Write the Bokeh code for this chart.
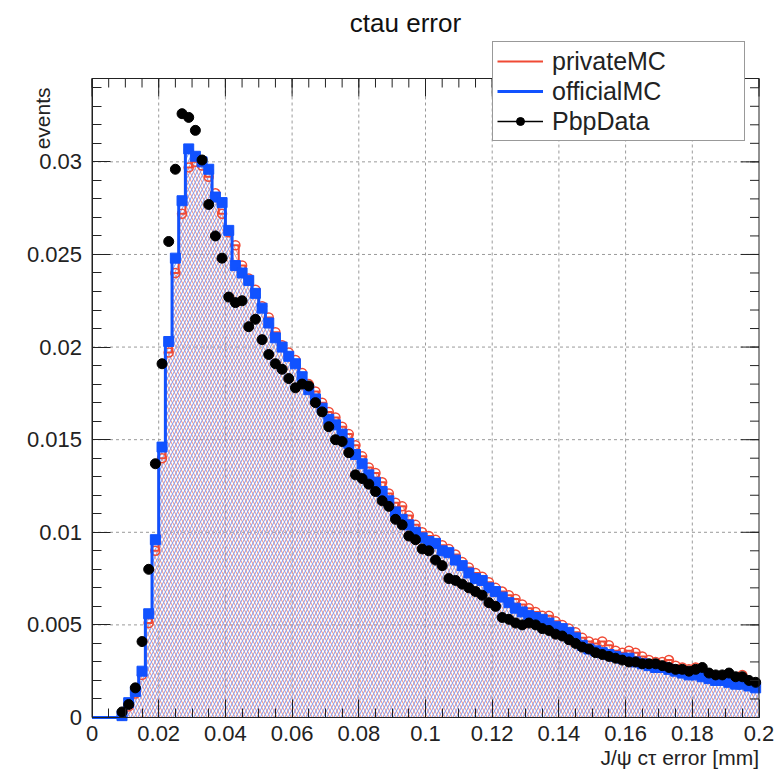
import numpy as np
from math import pi
from bokeh.plotting import figure
from bokeh.models import (FixedTicker, LinearAxis, Range1d, Label, Legend, LegendItem,
                          ColumnDataSource)
from bokeh.embed import file_html
from bokeh.resources import INLINE

# ---------------- data ----------------
bin_lo, bin_hi, n_bins = 0.0, 0.2, 100
y_axis_max = 0.0345

official_mc = [
    0, 0, 0, 0, 0.0001, 0.0008, 0.0014, 0.0025, 0.0056, 0.0096,
    0.0146, 0.0203, 0.0248, 0.0279, 0.0307, 0.0303, 0.0300, 0.0296, 0.0281, 0.0278,
    0.0263, 0.0244, 0.0240, 0.0236, 0.0229, 0.0221, 0.0213, 0.0205, 0.0200, 0.0195,
    0.0191, 0.0184, 0.0177, 0.0172, 0.0167, 0.0161, 0.0158, 0.0153, 0.0148, 0.0142,
    0.0137, 0.0131, 0.0127, 0.0122, 0.0117, 0.0111, 0.0107, 0.0104, 0.0100, 0.0097,
    0.0095, 0.0094, 0.0090, 0.0089, 0.0085, 0.0082, 0.0078, 0.0075, 0.0074, 0.0070,
    0.0068, 0.0065, 0.0062, 0.0059, 0.0057, 0.0055, 0.0054, 0.0053, 0.0051, 0.0049,
    0.0048, 0.0046, 0.0043, 0.0039, 0.0037, 0.0036, 0.0035, 0.0034, 0.0033, 0.0032,
    0.0032, 0.0030, 0.0029, 0.0028, 0.0027, 0.0027, 0.0026, 0.0025, 0.0024, 0.0023,
    0.0023, 0.0022, 0.0021, 0.0020, 0.0020, 0.0019, 0.0018, 0.0018, 0.0017, 0.0016,
]

private_mc = [
    0, 0, 0, 0, 0.0001, 0.0006, 0.0013, 0.0023, 0.0051, 0.0090,
    0.0140, 0.0197, 0.0240, 0.0272, 0.0297, 0.0300, 0.0298, 0.0292, 0.0283, 0.0272,
    0.0262, 0.0255, 0.0244, 0.0237, 0.0231, 0.0222, 0.0216, 0.0208, 0.0201, 0.0197,
    0.0193, 0.0186, 0.0180, 0.0176, 0.0170, 0.0165, 0.0162, 0.0157, 0.0153, 0.0147,
    0.0141, 0.0135, 0.0132, 0.0127, 0.0121, 0.0116, 0.0114, 0.0109, 0.0104, 0.0100,
    0.0098, 0.0096, 0.0093, 0.0091, 0.0088, 0.0084, 0.0081, 0.0078, 0.0076, 0.0073,
    0.0070, 0.0068, 0.0066, 0.0064, 0.0061, 0.0059, 0.0057, 0.0055, 0.0055, 0.0052,
    0.0050, 0.0048, 0.0046, 0.0043, 0.0041, 0.0040, 0.0041, 0.0039, 0.0036, 0.0035,
    0.0036, 0.0035, 0.0033, 0.0031, 0.0030, 0.0030, 0.0031, 0.0028, 0.0027, 0.0026,
    0.0027, 0.0025, 0.0023, 0.0022, 0.0022, 0.0021, 0.0021, 0.0023, 0.0019, 0.0017,
]

pbp_data = [
    0, 0, 0, 0, 0.0003, 0.0007, 0.0016, 0.0041, 0.0080, 0.0137,
    0.0191, 0.0257, 0.0296, 0.0326, 0.0324, 0.0317, 0.0301, 0.0277, 0.0260, 0.0248,
    0.0227, 0.0224, 0.0225, 0.0211, 0.0215, 0.0204, 0.0196, 0.0191, 0.0188, 0.0183,
    0.0178, 0.0180, 0.0179, 0.0170, 0.0165, 0.0157, 0.0150, 0.0149, 0.0143, 0.0131,
    0.0129, 0.0126, 0.0122, 0.0117, 0.0114, 0.0107, 0.0104, 0.0098, 0.0096, 0.0091,
    0.0090, 0.0085, 0.0082, 0.0075, 0.0074, 0.0072, 0.0070, 0.0068, 0.0066, 0.0062,
    0.0060, 0.0054, 0.0053, 0.0051, 0.0050, 0.0051, 0.0050, 0.0048, 0.0047, 0.0045,
    0.0044, 0.0042, 0.0040, 0.0038, 0.0037, 0.0035, 0.0034, 0.0033, 0.0032, 0.0031,
    0.0030, 0.0030, 0.0029, 0.0029, 0.0029, 0.0028, 0.0027, 0.0026, 0.0026, 0.0025,
    0.0026, 0.0027, 0.0024, 0.0023, 0.0023, 0.0024, 0.0022, 0.0022, 0.0020, 0.0019,
]

x_ticks = [0, 0.02, 0.04, 0.06, 0.08, 0.1, 0.12, 0.14, 0.16, 0.18, 0.2]
x_tick_labels = ["0", "0.02", "0.04", "0.06", "0.08", "0.1", "0.12", "0.14", "0.16", "0.18", "0.2"]
y_ticks = [0, 0.005, 0.01, 0.015, 0.02, 0.025, 0.03]
y_tick_labels = ["0", "0.005", "0.01", "0.015", "0.02", "0.025", "0.03"]

title_text = "ctau error"
x_title = "J/\u03c8 c\u03c4 error [mm]"
y_title = "events"
series_names = ["privateMC", "officialMC", "PbpData"]

# ---------------- layout / styling ----------------
W, H = 777, 775
FRAME_L, FRAME_R, FRAME_T, FRAME_B = 91.5, 758.5, 78, 717   # pixel box of the axes frame
FONT = "Liberation Sans"
INK = "#222222"
RED = "#f04a35"
BLUE = "#1152ff"
RED_HATCH = "#f2907e"
BLUE_HATCH = "#7c98f2"

# the Bokeh frame covers the whole canvas; axes are pinned at data 0
sx = (FRAME_R - FRAME_L) / (bin_hi - bin_lo)          # px per x unit
sy = (FRAME_B - FRAME_T) / y_axis_max                  # px per y unit
x_start = bin_lo - FRAME_L / sx
x_end = bin_hi + (W - FRAME_R) / sx
y_start = -(H - FRAME_B) / sy
y_end = y_axis_max + FRAME_T / sy

p = figure(width=W, height=H,
           x_range=Range1d(x_start, x_end), y_range=Range1d(y_start, y_end),
           x_axis_type=None, y_axis_type=None,
           output_backend="svg", toolbar_location=None, tools="",
           min_border=0, min_border_left=0, min_border_right=0,
           min_border_top=0, min_border_bottom=0,
           background_fill_color="white", border_fill_color="white",
           outline_line_color=None)

x_minor = [float(v) for v in np.round(np.arange(0, 0.2001, 0.005), 4)]
y_minor = [float(v) for v in np.round(np.arange(0, y_axis_max, 0.001), 4)]
xticker = FixedTicker(ticks=x_ticks, minor_ticks=x_minor)
yticker = FixedTicker(ticks=y_ticks, minor_ticks=y_minor)

MAJ, MIN = 18, 9


def style_axis(ax):
    ax.axis_line_color = INK
    ax.major_tick_in = MAJ
    ax.major_tick_out = 0
    ax.minor_tick_in = MIN
    ax.minor_tick_out = 0
    ax.major_tick_line_color = INK
    ax.minor_tick_line_color = INK
    ax.major_label_text_font = FONT
    ax.major_label_text_color = INK
    ax.major_label_text_font_size = "22px"


# ---------------- grid (dashed) ----------------
p.segment(x0=x_ticks[1:-1], y0=[0] * (len(x_ticks) - 2), x1=x_ticks[1:-1],
          y1=[y_axis_max] * (len(x_ticks) - 2),
          line_color="#9a9a9a", line_dash="3 3", line_width=1)
p.segment(x0=[0] * (len(y_ticks) - 1), y0=y_ticks[1:], x1=[bin_hi] * (len(y_ticks) - 1),
          y1=y_ticks[1:], line_color="#9a9a9a", line_dash="3 3", line_width=1)

# ---------------- histograms ----------------
edges = np.linspace(bin_lo, bin_hi, n_bins + 1)
centers = 0.5 * (edges[:-1] + edges[1:])
priv_ext = list(private_mc) + [private_mc[-1]]
off_ext = list(official_mc) + [official_mc[-1]]
zeros = [0.0] * (n_bins + 1)

p.varea_step(x=list(edges), y1=zeros, y2=priv_ext, step_mode="after",
             fill_alpha=0, hatch_pattern="\\", hatch_color=RED_HATCH,
             hatch_scale=7, hatch_weight=1)
p.varea_step(x=list(edges), y1=zeros, y2=off_ext, step_mode="after",
             fill_alpha=0, hatch_pattern="/", hatch_color=BLUE_HATCH,
             hatch_scale=7, hatch_weight=1)

red_step = p.step(x=list(edges), y=priv_ext, mode="after", line_color=RED, line_width=2)
priv_src = ColumnDataSource(dict(x=[c for c, v in zip(centers, private_mc) if v > 0],
                                 y=[v for v in private_mc if v > 0]))
p.scatter("x", "y", source=priv_src, marker="circle", size=9, fill_alpha=0,
          line_color=RED, line_width=1.5)

blue_step = p.step(x=list(edges), y=off_ext, mode="after", line_color=BLUE, line_width=3)
off_src = ColumnDataSource(dict(x=[c for c, v in zip(centers, official_mc) if v > 0],
                                y=[v for v in official_mc if v > 0]))
p.scatter("x", "y", source=off_src, marker="square", size=10, fill_color=BLUE,
          line_color=BLUE)

dx = [c for c, v in zip(centers, pbp_data) if v > 0]
dy = [v for v in pbp_data if v > 0]
data_src = ColumnDataSource(dict(x=dx, y=dy))
black_pts = p.scatter("x", "y", source=data_src, marker="circle", size=10,
                      fill_color="black", line_color="black")
# single-point line: draws nothing in the plot, gives the legend its line
black_line = p.line(x=dx[:1], y=dy[:1], line_color="black", line_width=1.5)

# ---------------- frame, axes, mirrored ticks ----------------
p.quad(left=[bin_lo], right=[bin_hi], bottom=[0], top=[y_axis_max],
       fill_alpha=0, line_color=INK, line_width=1)

xb = LinearAxis(ticker=xticker, fixed_location=0, bounds=(bin_lo, bin_hi),
                major_label_overrides={t: l for t, l in zip(x_ticks, x_tick_labels)})
style_axis(xb)
xb.major_label_standoff = 8
p.add_layout(xb, "below")

yl = LinearAxis(ticker=yticker, fixed_location=0, bounds=(0, y_axis_max),
                major_label_overrides={t: l for t, l in zip(y_ticks, y_tick_labels)})
style_axis(yl)
yl.major_label_standoff = 10
p.add_layout(yl, "left")

# top ticks (pointing down) and right ticks (pointing left)
p.segment(x0=x_ticks, y0=[y_axis_max] * len(x_ticks), x1=x_ticks,
          y1=[y_axis_max - MAJ / sy] * len(x_ticks), line_color=INK, line_width=1)
p.segment(x0=x_minor, y0=[y_axis_max] * len(x_minor), x1=x_minor,
          y1=[y_axis_max - MIN / sy] * len(x_minor), line_color=INK, line_width=1)
p.segment(x0=[bin_hi] * len(y_ticks), y0=y_ticks, x1=[bin_hi - MAJ / sx] * len(y_ticks),
          y1=y_ticks, line_color=INK, line_width=1)
p.segment(x0=[bin_hi] * len(y_minor), y0=y_minor, x1=[bin_hi - MIN / sx] * len(y_minor),
          y1=y_minor, line_color=INK, line_width=1)

# ---------------- legend ----------------
legend = Legend(items=[LegendItem(label=series_names[0], renderers=[red_step]),
                       LegendItem(label=series_names[1], renderers=[blue_step]),
                       LegendItem(label=series_names[2], renderers=[black_line, black_pts])],
                location=(492, H - 141), orientation="vertical",
                label_text_font=FONT, label_text_font_size="25px", label_text_color=INK,
                glyph_width=46, glyph_height=20, label_height=30, label_width=188,
                padding=4, spacing=0, label_standoff=9, margin=0,
                border_line_color="#333333", border_line_width=1,
                background_fill_color="white", background_fill_alpha=1)
p.add_layout(legend, "center")

# ---------------- titles ----------------
p.add_layout(Label(x=405, y=H - 22, x_units="screen", y_units="screen", text=title_text,
                   text_align="center", text_baseline="middle",
                   text_font=FONT, text_font_size="26px", text_color="#111111"))
p.add_layout(Label(x=42, y=H - 87, x_units="screen", y_units="screen", text=y_title,
                   angle=pi / 2, text_align="right", text_baseline="middle",
                   text_font=FONT, text_font_size="21px", text_color=INK))
p.add_layout(Label(x=FRAME_R, y=H - 757, x_units="screen", y_units="screen", text=x_title,
                   text_align="right", text_baseline="middle",
                   text_font=FONT, text_font_size="21px", text_color=INK))

open("out.html", "w").write(file_html(p, INLINE))
